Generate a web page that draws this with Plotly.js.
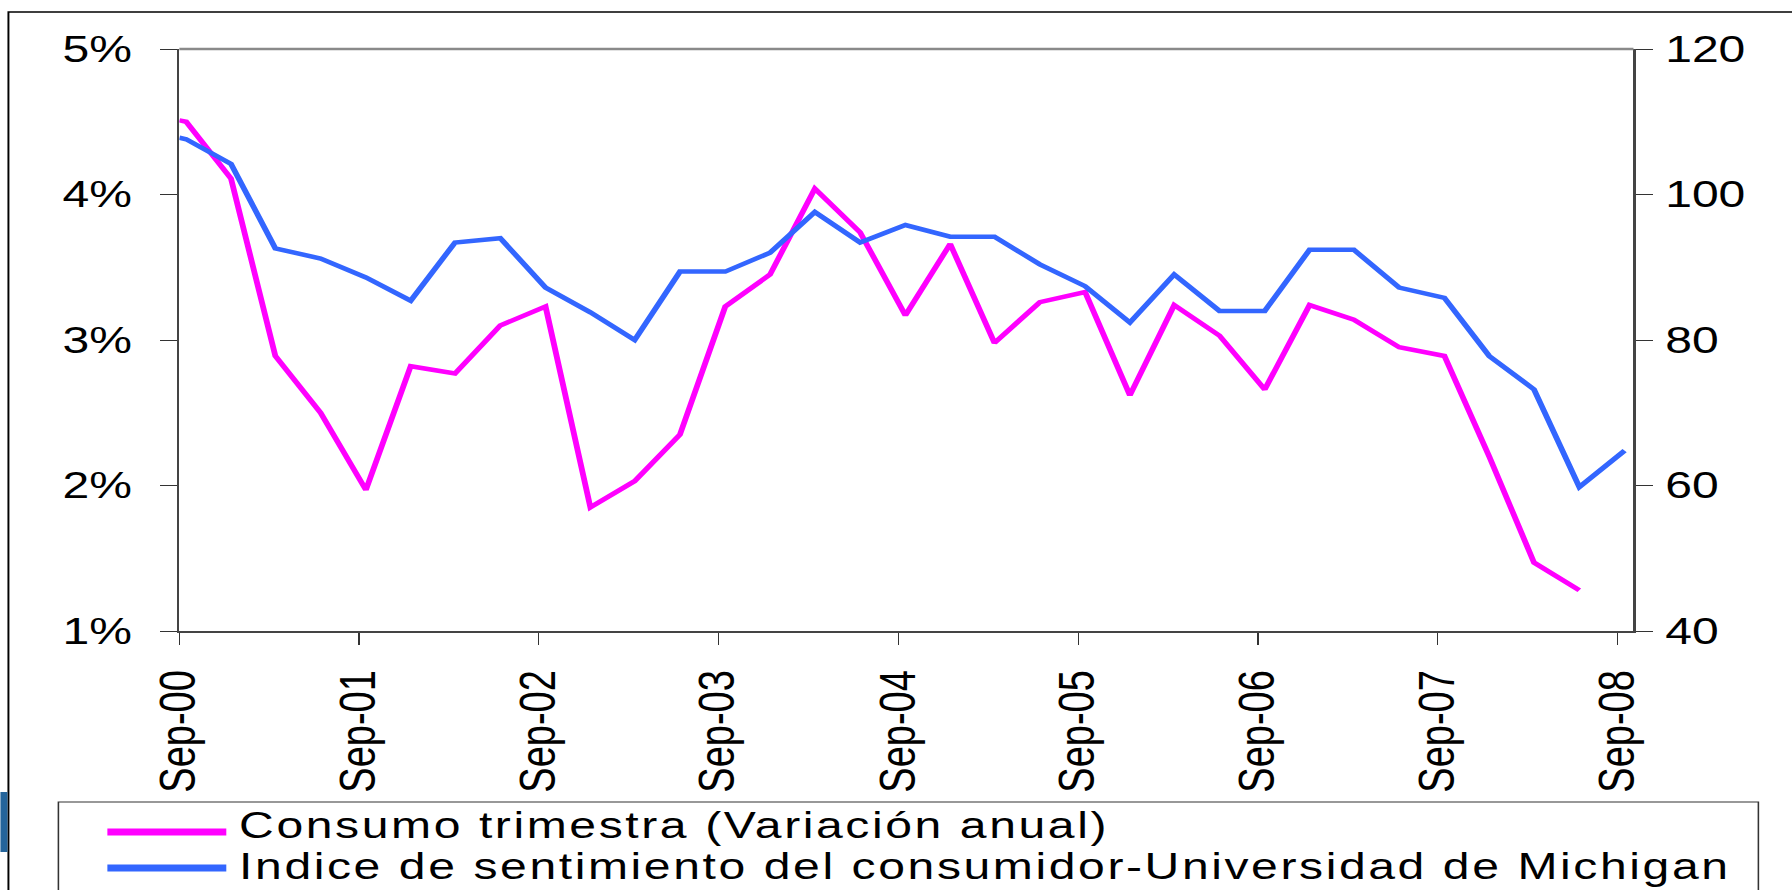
<!DOCTYPE html>
<html>
<head>
<meta charset="utf-8">
<script src="https://cdn.plot.ly/plotly-3.0.1.min.js"></script>
<style>
  html, body { margin: 0; padding: 0; background: #ffffff; overflow: hidden; width: 1792px; height: 890px; }
  #chart { transform-origin: 0 0; }
  #chart .annotation-text { letter-spacing: 2px; }
</style>
</head>
<body>
<div id="chart"></div>
<script>
// ---------------- DATA ----------------
const quarterDates = [
  '2000-09-01','2000-09-15','2000-12-15','2001-03-15','2001-06-15','2001-09-15','2001-12-15',
  '2002-03-15','2002-06-15','2002-09-15','2002-12-15','2003-03-15','2003-06-15','2003-09-15',
  '2003-12-15','2004-03-15','2004-06-15','2004-09-15','2004-12-15','2005-03-15','2005-06-15',
  '2005-09-15','2005-12-15','2006-03-15','2006-06-15','2006-09-15','2006-12-15','2007-03-15',
  '2007-06-15','2007-09-15','2007-12-15','2008-03-15','2008-06-15','2008-09-15'
];
// Consumo trimestral, variación anual (%), eje izquierdo
const consumo = [
  4.51, 4.50, 4.11, 2.89, 2.50, 1.97, 2.82, 2.77, 3.10, 3.23, 1.85, 2.03, 2.35, 3.23, 3.45,
  4.04, 3.74, 3.17, 3.66, 2.98, 3.26, 3.33, 2.62, 3.24, 3.03, 2.66, 3.24, 3.14, 2.95, 2.89,
  2.20, 1.47, 1.28
];
// Índice de sentimiento del consumidor - U. Michigan, eje derecho
const sentimiento = [
  107.8, 107.6, 104.2, 92.6, 91.2, 88.6, 85.4, 93.4, 94.0, 87.2, 83.8, 80.0, 89.4, 89.4, 92.0,
  97.6, 93.4, 95.8, 94.2, 94.2, 90.4, 87.4, 82.4, 89.0, 84.0, 84.0, 92.4, 92.4, 87.2, 85.8,
  77.8, 73.2, 59.8, 64.8
];
const seriesNames = [
  'Consumo trimestra (Variación anual)',
  'Indice de sentimiento del consumidor-Universidad de Michigan'
];
const leftTicks = [1, 2, 3, 4, 5];
const leftTickText = ['1%', '2%', '3%', '4%', '5%'];
const rightTicks = [40, 60, 80, 100, 120];
const rightTickText = ['40', '60', '80', '100', '120'];

// ---------------- LAYOUT HELPERS ----------------
const S = 1792 / 1379;           // horizontal stretch of the original picture
const W = 1379, H = 890;
const L = 179 / S, R = W - 1634 / S, T = 49, B = H - 631;
const plotW = W - L - R, plotH = H - T - B;
function px(xFull) { return (xFull / S - L) / plotW; }
function py(yFull) { return (H - B - yFull) / plotH; }

document.getElementById('chart').style.transform = 'scaleX(' + S + ')';

const colMag = '#FF00FF', colBlue = '#3366FF';
const fontFam = '"Liberation Sans", Arial, Helvetica, sans-serif';
const xRange = ['2000-09-01', '2008-10-03'];

const traces = [
  { type: 'scatter', mode: 'lines', name: seriesNames[0],
    x: quarterDates.slice(0, consumo.length), y: consumo, yaxis: 'y',
    line: { color: colMag, width: 4.5 }, hoverinfo: 'x+y' },
  { type: 'scatter', mode: 'lines', name: seriesNames[1],
    x: quarterDates.slice(0, sentimiento.length), y: sentimiento, yaxis: 'y2',
    line: { color: colBlue, width: 4.5 }, hoverinfo: 'x+y' }
];

const axisBase = { showgrid: false, zeroline: false, tickcolor: '#333', tickwidth: 1,
  tickfont: { family: fontFam, size: 37, color: '#000' } };

const layout = {
  width: W, height: H,
  margin: { l: L, r: R, t: T, b: B, pad: 0 },
  paper_bgcolor: '#ffffff', plot_bgcolor: 'rgba(0,0,0,0)',
  showlegend: false,
  font: { family: fontFam, color: '#000' },
  xaxis: Object.assign({}, axisBase, {
    type: 'date', range: xRange, tick0: '2000-09-01', dtick: 'M12', tickformat: '%b-%y',
    tickangle: -90, ticks: 'outside', ticklen: 12, showline: true, linecolor: '#444', linewidth: 2,
    tickfont: { family: fontFam, size: 38, color: '#000' }, ticklabelstandoff: 10
  }),
  xaxis2: { overlaying: 'x', anchor: 'y', side: 'bottom', type: 'date', range: xRange,
    tick0: '2000-09-01', dtick: 'M12', ticks: 'inside', ticklen: 12, tickcolor: '#333', tickwidth: 1,
    showticklabels: false, showline: false, showgrid: false, zeroline: false },
  yaxis: Object.assign({}, axisBase, {
    range: [1, 5], tickmode: 'array', tickvals: leftTicks, ticktext: leftTickText,
    ticks: 'outside', ticklen: 13,
    showline: true, linecolor: '#444', linewidth: 2, ticklabelstandoff: 14
  }),
  yaxis2: Object.assign({}, axisBase, {
    overlaying: 'y', side: 'right', anchor: 'x', range: [40, 120],
    tickmode: 'array', tickvals: rightTicks, ticktext: rightTickText,
    ticks: 'outside', ticklen: 13, showline: true, linecolor: '#444', linewidth: 2, ticklabelstandoff: 2
  }),
  yaxis3: { overlaying: 'y', side: 'left', anchor: 'x', range: [1, 5], tickmode: 'array', tickvals: leftTicks,
    ticks: 'inside', ticklen: 13, tickcolor: '#333', tickwidth: 1, showticklabels: false,
    showline: false, showgrid: false, zeroline: false },
  yaxis4: { overlaying: 'y', side: 'right', anchor: 'x', range: [40, 120], tickmode: 'array', tickvals: rightTicks,
    ticks: 'inside', ticklen: 13, tickcolor: '#333', tickwidth: 1, showticklabels: false,
    showline: false, showgrid: false, zeroline: false },
  shapes: [
    // top frame line of plot area
    { type: 'line', xref: 'paper', yref: 'paper', x0: px(179), x1: px(1634), y0: 1, y1: 1,
      line: { color: '#8a8a8a', width: 2.5 } },
    // outer chart border
    { type: 'rect', xref: 'paper', yref: 'paper', x0: px(8), x1: px(1830), y0: py(930), y1: py(12),
      line: { color: '#000', width: 1.5 }, fillcolor: 'rgba(0,0,0,0)' },
    // fragment at lower-left edge
    { type: 'rect', xref: 'paper', yref: 'paper', x0: px(0), x1: px(7), y0: py(852), y1: py(792),
      line: { width: 0 }, fillcolor: '#24649a' },
    // legend box
    { type: 'rect', xref: 'paper', yref: 'paper', x0: px(58), x1: px(1759), y0: py(930), y1: py(802),
      line: { color: '#333', width: 1.2 }, fillcolor: 'rgba(0,0,0,0)' },
    { type: 'line', xref: 'paper', yref: 'paper', x0: px(107), x1: px(226), y0: py(832), y1: py(832),
      line: { color: colMag, width: 7 } },
    { type: 'line', xref: 'paper', yref: 'paper', x0: px(107), x1: px(226), y0: py(868), y1: py(868),
      line: { color: colBlue, width: 7 } }
  ],
  annotations: [
    { xref: 'paper', yref: 'paper', x: px(238), y: py(825), xanchor: 'left', yanchor: 'middle', align: 'left',
      text: seriesNames[0], showarrow: false, borderpad: 0,
      font: { family: fontFam, size: 37, color: '#000' } },
    { xref: 'paper', yref: 'paper', x: px(238), y: py(867), xanchor: 'left', yanchor: 'middle', align: 'left',
      text: seriesNames[1], showarrow: false, borderpad: 0,
      font: { family: fontFam, size: 37, color: '#000' } }
  ]
};

Plotly.newPlot('chart', traces, layout, { displayModeBar: false, staticPlot: true });
</script>
</body>
</html>
